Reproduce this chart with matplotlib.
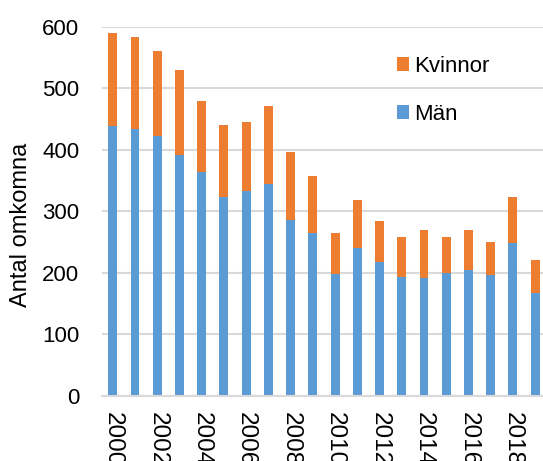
import matplotlib
matplotlib.use("Agg")
import matplotlib.pyplot as plt
import numpy as np

plt.rcParams['font.family'] = ['Liberation Sans', 'DejaVu Sans']

years = list(range(2000, 2020))
totals = [590, 583, 560, 529, 480, 440, 445, 471, 397, 358,
          265, 318, 285, 259, 270, 258, 270, 251, 324, 221]
man = [438, 434, 423, 391, 364, 324, 333, 344, 286, 265,
       199, 240, 218, 194, 191, 200, 205, 196, 248, 168]
kvinnor = [t - m for t, m in zip(totals, man)]
tick_years = years[::2]

blue = '#5B9BD5'
orange = '#ED7D31'
grid = '#D9D9D9'

fig = plt.figure(figsize=(5.43, 4.61), dpi=100)
ax = fig.add_axes([101.7 / 543, 65 / 461, 444.5 / 543, 369.3 / 461])

x = np.arange(len(years))
ax.bar(x, man, width=0.4, color=blue, label='Män', zorder=3)
ax.bar(x, kvinnor, width=0.4, bottom=man, color=orange, label='Kvinnor', zorder=3)

ax.set_xlim(-0.5, len(years) - 0.5)
ax.set_ylim(0, 600)
ax.set_yticks(range(0, 601, 100))
ax.set_xticks(x[::2])
ax.set_xticklabels([str(y) for y in tick_years], rotation=270, fontsize=17.5)
ax.tick_params(axis='y', length=0, pad=16, labelsize=16)
ax.tick_params(axis='x', length=0, pad=11.5)
ax.yaxis.grid(True, color=grid, linewidth=1.5, zorder=0)
ax.set_axisbelow(True)
for s in ['top', 'right', 'left']:
    ax.spines[s].set_visible(False)
ax.spines['bottom'].set_color(grid)
ax.spines['bottom'].set_linewidth(1.5)
ax.spines['bottom'].set_zorder(4)

ax.set_ylabel('Antal omkomna', fontsize=17)
ax.yaxis.set_label_coords((32 - 101.7) / 444.5, (396 - 225) / 369.3)

handles, labels = ax.get_legend_handles_labels()
leg = ax.legend(handles[::-1], labels[::-1], loc='upper left',
                bbox_to_anchor=(0.619, 0.975), frameon=False, fontsize=16,
                handlelength=0.56, handleheight=0.56, labelspacing=1.2,
                handletextpad=0.2)

fig.savefig('out.png', dpi=100)
